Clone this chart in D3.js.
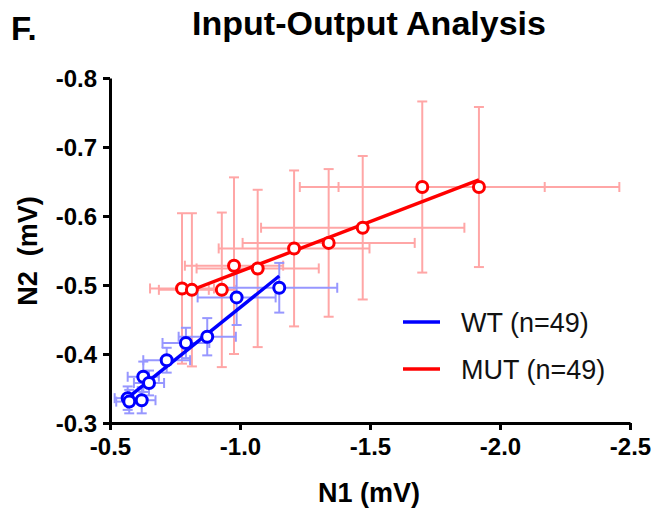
<!DOCTYPE html>
<html><head><meta charset="utf-8">
<script src="https://cdn.jsdelivr.net/npm/d3@7"></script>
<style>body{margin:0;background:#fff}svg{display:block}text{font-family:"Liberation Sans",Arial,sans-serif}</style>
</head><body><svg id="c" width="656" height="512"></svg>
<script>
// ---- data ----
const xTicks = [-0.5, -1.0, -1.5, -2.0, -2.5];
const xTickLabels = ["-0.5", "-1.0", "-1.5", "-2.0", "-2.5"];
const yTicks = [-0.3, -0.4, -0.5, -0.6, -0.7, -0.8];
const yTickLabels = ["-0.3", "-0.4", "-0.5", "-0.6", "-0.7", "-0.8"];

const wtN1 = [-0.568, -0.574, -0.622, -0.628, -0.650, -0.718, -0.792, -0.874, -0.987, -1.151];
const wtN2 = [-0.336, -0.331, -0.333, -0.367, -0.358, -0.391, -0.416, -0.425, -0.482, -0.496];
const wtN1Err = [0.05, 0.05, 0.053, 0.06, 0.058, 0.09, 0.09, 0.11, 0.15, 0.223];
const wtN2Err = [0.017, 0.017, 0.019, 0.022, 0.018, 0.018, 0.022, 0.027, 0.04, 0.036];

const mutN1 = [-0.777, -0.815, -0.930, -0.977, -1.068, -1.208, -1.341, -1.472, -1.701, -1.919];
const mutN2 = [-0.495, -0.493, -0.493, -0.528, -0.524, -0.553, -0.561, -0.583, -0.642, -0.642];
const mutN1Err = [0.123, 0.127, 0.05, 0.189, 0.235, 0.290, 0.331, 0.391, 0.471, 0.540];
const mutN2Err = [0.109, 0.111, 0.112, 0.128, 0.114, 0.113, 0.107, 0.104, 0.124, 0.116];

const seriesNames = ["WT (n=49)", "MUT (n=49)"];
// ---- drawing ----
const svg = d3.select("#c");
const x = d3.scaleLinear().domain([-0.5, -2.5]).range([110, 630]);
const y = d3.scaleLinear().domain([-0.3, -0.8]).range([423, 78]);

const series = [
  {name: seriesNames[0], n1: wtN1, n2: wtN2, e1: wtN1Err, e2: wtN2Err, col: "#0000ff", light: "#9797ff"},
  {name: seriesNames[1], n1: mutN1, n2: mutN2, e1: mutN1Err, e2: mutN2Err, col: "#ff0000", light: "#ffa6a6"}
];

function fit(xs, ys) {
  const mx = d3.mean(xs), my = d3.mean(ys);
  let sxy = 0, sxx = 0;
  xs.forEach((v, i) => { sxy += (v - mx) * (ys[i] - my); sxx += (v - mx) * (v - mx); });
  const b = sxy / sxx;
  return v => my + b * (v - mx);
}

// error bars (red first, blue on top)
const cap = 5;
[series[1], series[0]].forEach(s => {
  const g = svg.append("g").attr("stroke", s.light).attr("stroke-width", 2).attr("fill", "none");
  s.n1.forEach((v, i) => {
    const cx = x(v), cy = y(s.n2[i]);
    const x0 = x(v + s.e1[i]), x1 = x(v - s.e1[i]);
    const y0 = y(s.n2[i] + s.e2[i]), y1 = y(s.n2[i] - s.e2[i]);
    g.append("line").attr("x1", x0).attr("x2", x1).attr("y1", cy).attr("y2", cy);
    g.append("line").attr("x1", x0).attr("x2", x0).attr("y1", cy - cap).attr("y2", cy + cap);
    g.append("line").attr("x1", x1).attr("x2", x1).attr("y1", cy - cap).attr("y2", cy + cap);
    g.append("line").attr("x1", cx).attr("x2", cx).attr("y1", y0).attr("y2", y1);
    g.append("line").attr("x1", cx - cap).attr("x2", cx + cap).attr("y1", y0).attr("y2", y0);
    g.append("line").attr("x1", cx - cap).attr("x2", cx + cap).attr("y1", y1).attr("y2", y1);
  });
});

// regression lines
[series[1], series[0]].forEach(s => {
  const f = fit(s.n1, s.n2);
  const lo = d3.max(s.n1), hi = d3.min(s.n1);
  svg.append("line").attr("x1", x(lo)).attr("y1", y(f(lo))).attr("x2", x(hi)).attr("y2", y(f(hi)))
    .attr("stroke", s.col).attr("stroke-width", 3.4);
});

// points
[series[1], series[0]].forEach(s => {
  svg.append("g").selectAll("circle").data(s.n1).join("circle")
    .attr("cx", d => x(d)).attr("cy", (d, i) => y(s.n2[i])).attr("r", 5.5)
    .attr("fill", "#fff").attr("stroke", s.col).attr("stroke-width", 3);
});

// axes
const xAxis = d3.axisBottom(x).tickValues(xTicks).tickFormat((d, i) => xTickLabels[i]).tickSize(7).tickSizeOuter(0);
const yAxis = d3.axisLeft(y).tickValues(yTicks).tickFormat((d, i) => yTickLabels[i]).tickSize(7).tickSizeOuter(0);
const gx = svg.append("g").attr("transform", "translate(0,423)").call(xAxis);
const gy = svg.append("g").attr("transform", "translate(110,0)").call(yAxis);
[gx, gy].forEach(g => {
  g.select(".domain").attr("stroke", "#000").attr("stroke-width", 3);
  g.selectAll(".tick line").attr("stroke", "#000").attr("stroke-width", 3);
  g.selectAll(".tick text").attr("fill", "#000").attr("font-size", 24).attr("font-weight", "bold")
    .attr("font-family", "Liberation Sans, Arial, sans-serif");
});
gx.selectAll(".tick text").attr("dy", "0.9em").attr("y", 10);
gy.selectAll(".tick text").attr("x", -13).attr("dy", "0.35em");

// titles
svg.append("text").attr("x", 11).attr("y", 40).attr("font-size", 33).attr("font-weight", "bold").text("F.");
svg.append("text").attr("x", 369).attr("y", 35).attr("text-anchor", "middle").attr("font-size", 34)
  .attr("font-weight", "bold").text("Input-Output Analysis");
svg.append("text").attr("x", 369).attr("y", 502).attr("text-anchor", "middle").attr("font-size", 27)
  .attr("font-weight", "bold").text("N1 (mV)");
svg.append("text").attr("transform", "translate(37,251) rotate(-90)").attr("text-anchor", "middle")
  .attr("font-size", 27).attr("font-weight", "bold").attr("xml:space", "preserve").text("N2  (mV)");

// legend
series.forEach((s, i) => {
  const ly = 322 + i * 47;
  svg.append("line").attr("x1", 403).attr("x2", 440).attr("y1", ly).attr("y2", ly)
    .attr("stroke", s.col).attr("stroke-width", 3.4);
  svg.append("text").attr("x", 461).attr("y", ly + 10).attr("font-size", 27).attr("fill", "#111").text(s.name);
});
</script></body></html>
